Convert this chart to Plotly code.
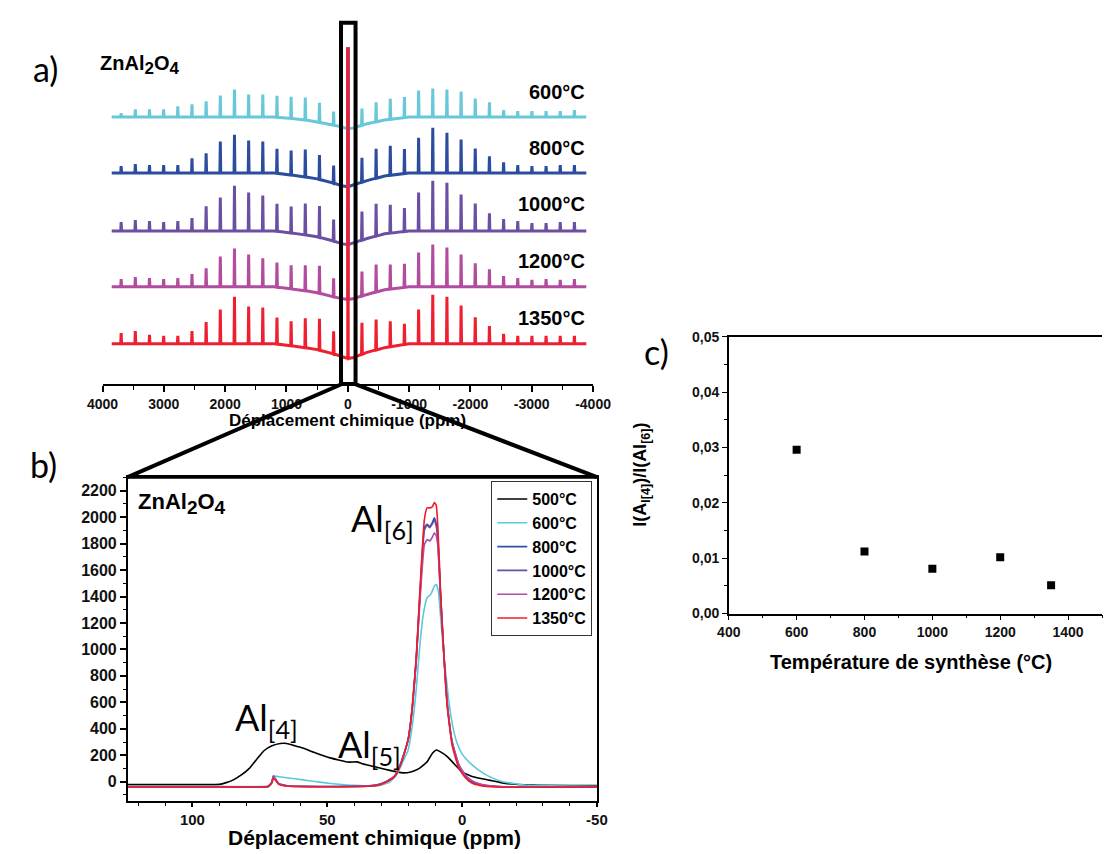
import numpy as np
import plotly.graph_objects as go

W, H = 1112, 854
PAGE_PAD = 8  # browser body margin around the plot div

# ---------------- panel a : stacked full spectra ----------------
temps_a = ["600°C", "800°C", "1000°C", "1200°C", "1350°C"]
colors_a = ["#68c8da", "#2c4d9e", "#6a4fa2", "#b24c9e", "#ee2030"]
offsets_a = [231, 174, 115, 58, 0]

sideband_step = 231  # ppm
# sideband heights, order k = +16 ... +1 then -1 ... -16
sb_600 = [4, 8, 8, 8, 11, 13, 16, 22, 28, 23, 23, 22, 22, 23, 20, 14,
          17, 20, 21, 21, 27, 29, 28, 26, 19, 15, 7, 6, 6, 6, 6, 7]
sb_800 = [7, 9, 8, 8, 8, 15, 20, 32, 39, 33, 32, 25, 25, 28, 25, 18,
          25, 30, 30, 25, 36, 46, 41, 34, 25, 17, 11, 8, 7, 7, 8, 8]
sb_1000 = [9, 11, 10, 9, 10, 13, 25, 34, 46, 39, 36, 28, 27, 32, 32, 22,
           29, 33, 29, 24, 39, 51, 49, 37, 28, 18, 12, 10, 8, 8, 9, 9]
sb_1200 = [8, 10, 9, 8, 9, 13, 19, 31, 39, 33, 29, 25, 24, 26, 28, 19,
           25, 28, 25, 24, 35, 43, 40, 33, 24, 18, 11, 9, 7, 8, 7, 8]
sb_1350 = [11, 13, 9, 8, 8, 13, 22, 35, 48, 38, 37, 27, 25, 30, 32, 23,
           32, 31, 26, 21, 35, 50, 48, 39, 27, 18, 10, 8, 8, 8, 8, 8]
sidebands = [sb_600, sb_800, sb_1000, sb_1200, sb_1350]
center_peak = [420, 420, 420, 420, 420]

base_ppm = [3850, 1200, 800, 500, 250, 100, 0, -100, -300, -600, -1000, -3890]
base_600 = [0, 0, -2, -5, -8, -10, -12, -11, -7, -3, 0, 0]
base_800 = [0, 0, -3, -6, -10, -13, -14, -12, -8, -3, 0, 0]
base_1000 = [0, 0, -3, -6, -10, -13, -14, -12, -8, -3, 0, 0]
base_1200 = [0, 0, -3, -6, -10, -12, -13, -12, -8, -3, 0, 0]
base_1350 = [0, 0, -3, -6, -10, -13, -15, -14, -9, -4, 0, 0]
baselines = [base_600, base_800, base_1000, base_1200, base_1350]

# ---------------- panel b : zoom on central band ----------------
temps_b = ["500°C", "600°C", "800°C", "1000°C", "1200°C", "1350°C"]
colors_b = ["#000000", "#5cc8dc", "#2f50a8", "#6a4fa6", "#b04ca2", "#ee1c28"]

ppm_500 = [124, 95, 90, 87.5, 85, 82, 79, 76, 73.5, 70.5, 67.5, 65, 62, 59, 55, 49,
           42, 39, 37, 32, 26, 22, 19, 16, 13, 11, 9.5, 8, 5.5, 3, 0, -4, -10,
           -16, -26, -50]
int_500 = [-22, -22, -20, -7, 12, 49, 99, 173, 234, 271, 289, 289, 271, 254, 222, 180,
           148, 150, 136, 111, 82, 67, 74, 99, 150, 215, 240, 225, 190, 136, 74, 37, 12,
           -13, -25, -30]

ppm_600 = [124, 90, 72, 70.6, 70, 69.2, 67, 62, 56, 48, 40, 31, 27, 24, 22, 20, 18.5,
           17, 15.8, 14.5, 13, 11.5, 10.3, 9.6, 8.8, 7.8, 6.5, 5, 3.5, 2, 0, -3, -6,
           -10, -15, -25, -50]
int_600 = [-35, -35, -33, -5, 40, 42, 35, 22, 5, -15, -28, -30, -5, 60, 150, 240, 420,
           700, 1000, 1250, 1390, 1420, 1480, 1490, 1440, 1200, 900, 620, 420, 300, 210,
           140, 90, 40, 0, -28, -35]

ppm_hi = [124, 90, 72, 70.6, 70, 69.3, 68, 64, 50, 35, 31, 28, 25, 23, 21.5, 20, 18.5,
          17, 16, 15, 14, 13, 12, 11, 10.3, 9.6, 9, 8, 6.7, 5.5, 3.7, 1.2, -1.2, -3.6,
          -7, -12, -20, -50]
int_800 = [-38, -38, -36, -5, 30, 20, -15, -33, -36, -33, -22, 2, 42, 125, 215, 320,
           555, 930, 1290, 1640, 1920, 1945, 1930, 1960, 1995, 1950, 1850, 1420, 940,
           580, 290, 115, 40, 0, -25, -35, -40, -40]
int_1000 = [-38, -38, -36, -5, 45, 25, -15, -33, -36, -33, -22, 2, 42, 125, 215, 320,
            555, 925, 1280, 1620, 1900, 1940, 1920, 1950, 1975, 1930, 1830, 1410, 940,
            590, 300, 125, 45, 5, -22, -35, -40, -40]
int_1200 = [-40, -40, -38, -8, 35, 20, -18, -35, -38, -35, -24, 0, 40, 120, 210, 315,
            545, 910, 1250, 1560, 1790, 1830, 1820, 1850, 1880, 1860, 1780, 1400, 940,
            590, 305, 130, 50, 8, -20, -35, -42, -42]
int_1350 = [-40, -40, -38, -10, 25, 15, -20, -35, -38, -35, -25, 0, 40, 120, 210, 320,
            560, 940, 1310, 1680, 1980, 2070, 2070, 2080, 2110, 2090, 1930, 1440, 940,
            570, 275, 100, 30, -10, -30, -40, -42, -42]

spectra_b = [(ppm_500, int_500), (ppm_600, int_600), (ppm_hi, int_800),
             (ppm_hi, int_1000), (ppm_hi, int_1200), (ppm_hi, int_1350)]

# ---------------- panel c : ratio vs temperature ----------------
synth_temp = [600, 800, 1000, 1200, 1350]
ratio_al4_al6 = [0.0296, 0.0112, 0.0081, 0.0102, 0.0051]


# screen pixel -> paper fraction
def px(x):
    return (x - PAGE_PAD) / W


def py(y):
    return 1 - (y - PAGE_PAD) / H


fig = go.Figure()

# stacked spectra (panel a)
k_order = list(range(16, 0, -1)) + list(range(-1, -17, -1))
for name, col, off, sb, base, cp in zip(temps_a, colors_a, offsets_a, sidebands,
                                        baselines, center_peak):
    pos = [k * sideband_step for k in k_order] + [0]
    hts = list(sb) + [cp]
    xs = list(base_ppm)
    ys = list(base)
    for p, h in zip(pos, hts):
        b = float(np.interp(-p, [-v for v in base_ppm], base))
        xs += [p + 7, p, p - 7]
        ys += [b, b + h, b]
    order = np.argsort(xs)[::-1]
    xs = np.array(xs)[order]
    ys = np.array(ys)[order] + off
    fig.add_trace(go.Scatter(x=xs, y=ys, mode="lines", line=dict(color=col, width=3),
                             xaxis="x", yaxis="y", showlegend=False, hoverinfo="skip"))

# zoomed spectra (panel b)
for name, col, (xv, yv) in zip(temps_b, colors_b, spectra_b):
    fig.add_trace(go.Scatter(x=xv, y=yv, mode="lines", name=name,
                             line=dict(color=col, width=1.6, shape="spline", smoothing=0.4),
                             xaxis="x2", yaxis="y2"))

# ratio (panel c)
fig.add_trace(go.Scatter(x=synth_temp, y=ratio_al4_al6, mode="markers",
                         marker=dict(symbol="square", size=8, color="black"),
                         xaxis="x3", yaxis="y3", showlegend=False))

tick_bold = dict(family="Liberation Sans, Arial", color="#111", weight="bold")

fig.update_layout(
    width=W, height=H,
    margin=dict(l=0, r=0, t=0, b=0),
    paper_bgcolor="white", plot_bgcolor="white",
    separators=",.",
    font=dict(family="Liberation Sans, Arial", color="black", size=12),
    xaxis=dict(
        domain=[px(89), px(595)], anchor="y", range=[4000, -4000],
        tickmode="array", tickvals=list(range(4000, -4001, -1000)),
        ticktext=[str(v) for v in range(4000, -4001, -1000)],
        ticks="outside", ticklen=6, tickwidth=1.5, tickcolor="black",
        minor=dict(tickvals=list(range(3500, -4000, -1000)), ticks="outside",
                   ticklen=4, tickwidth=1.2, tickcolor="black"),
        showline=True, linewidth=2, linecolor="black", showgrid=False, zeroline=False,
        tickfont=dict(size=14, **tick_bold),
    ),
    yaxis=dict(domain=[py(383), py(40)], anchor="x", range=[-41, 302], visible=False),
    xaxis2=dict(
        domain=[px(115), px(599)], anchor="y2", range=[124, -50],
        tickmode="array", tickvals=[100, 50, 0, -50], ticktext=["100", "50", "0", "-50"],
        ticks="outside", ticklen=4, tickwidth=1.5, tickcolor="black",
        minor=dict(dtick=10, tick0=0, ticks="outside", ticklen=3, tickwidth=1.2,
                   tickcolor="black"),
        showline=True, linewidth=1.5, linecolor="black", mirror=True,
        showgrid=False, zeroline=False, tickfont=dict(size=15, **tick_bold),
    ),
    yaxis2=dict(
        domain=[py(808), py(478)], anchor="x2", range=[-146, 2302],
        tickmode="linear", tick0=0, dtick=200,
        ticks="outside", ticklen=6, tickwidth=1.5, tickcolor="black",
        minor=dict(dtick=100, tick0=0, ticks="outside", ticklen=3, tickwidth=1.2,
                   tickcolor="black"),
        showline=True, linewidth=1.5, linecolor="black", mirror=True,
        showgrid=False, zeroline=False, tickfont=dict(size=16, **tick_bold),
    ),
    xaxis3=dict(
        domain=[px(735), 1.0], anchor="y3", range=[400, 1500],
        tickmode="linear", tick0=400, dtick=200,
        ticks="outside", ticklen=5, tickwidth=1.3, tickcolor="black",
        minor=dict(dtick=100, tick0=400, ticks="outside", ticklen=3, tickwidth=1.1,
                   tickcolor="black"),
        showline=True, linewidth=1.5, linecolor="black", mirror=True,
        showgrid=False, zeroline=False, tickfont=dict(size=14, **tick_bold),
    ),
    yaxis3=dict(
        domain=[py(617), py(335)], anchor="x3", range=[0, 0.05],
        tickmode="linear", tick0=0, dtick=0.01, tickformat=".2f",
        ticks="outside", ticklen=5, tickwidth=1.3, tickcolor="black",
        minor=dict(dtick=0.005, tick0=0, ticks="outside", ticklen=3, tickwidth=1.1,
                   tickcolor="black"),
        showline=True, linewidth=1.5, linecolor="black",
        showgrid=False, zeroline=False, tickfont=dict(size=14, **tick_bold),
    ),
    legend=dict(
        x=px(490), y=py(482), xanchor="left", yanchor="top",
        bgcolor="white", bordercolor="#333", borderwidth=1,
        font=dict(size=16, family="Liberation Sans, Arial", weight="bold"),
        tracegroupgap=0, itemwidth=30,
    ),
)

# zoom box + connecting lines
line_k = dict(color="black", width=4)
fig.add_shape(type="rect", xref="paper", yref="paper",
              x0=px(335), x1=px(350), y0=py(383), y1=py(15), line=line_k)
fig.add_shape(type="line", xref="paper", yref="paper",
              x0=px(336), y0=py(383), x1=px(115), y1=py(478), line=line_k)
fig.add_shape(type="line", xref="paper", yref="paper",
              x0=px(349), y0=py(383), x1=px(599), y1=py(478), line=line_k)
fig.add_shape(type="line", xref="paper", yref="paper",
              x0=px(115), y0=py(478), x1=px(599), y1=py(478),
              line=dict(color="black", width=3))


def label(x, y, text, size, family="Liberation Sans, Arial", weight="bold",
          xanchor="center", angle=0):
    fig.add_annotation(x=px(x), y=py(y), xref="paper", yref="paper", text=text,
                       showarrow=False, xanchor=xanchor, yanchor="middle",
                       textangle=angle,
                       font=dict(size=size, family=family, weight=weight, color="black"))


def formula(size):
    s = round(size * 0.85)
    return (f"ZnAl<sub><span style='font-size:{s}px'>2</span></sub>O"
            f"<sub><span style='font-size:{s}px'>4</span></sub>")


label(30, 62, "a)", 34, family="Lato", weight="normal")
label(28, 465, "b)", 34, family="Lato", weight="normal")
label(660, 350, "c)", 34, family="Lato", weight="normal")

label(84, 58, formula(20), 20, xanchor="left")
for name, yy in zip(temps_a, [85, 143, 200, 258, 316]):
    label(589, yy, name, 20, xanchor="right")
label(342, 420, "Déplacement chimique (ppm)", 17)

label(124, 505, formula(22), 22, xanchor="left")
label(343, 522, "Al<sub>[6]</sub>", 36, family="Lato", weight="normal", xanchor="left")
label(224, 725, "Al<sub>[4]</sub>", 36, family="Lato", weight="normal", xanchor="left")
label(330, 752, "Al<sub>[5]</sub>", 36, family="Lato", weight="normal", xanchor="left")
label(370, 845, "Déplacement chimique (ppm)", 21)

label(923, 666, "Température de synthèse (°C)", 20)
label(645, 476, "I(A<sub>l[4]</sub>)/I(Al<sub>[6]</sub>)", 18, angle=-90)

fig.write_html("out.html")
